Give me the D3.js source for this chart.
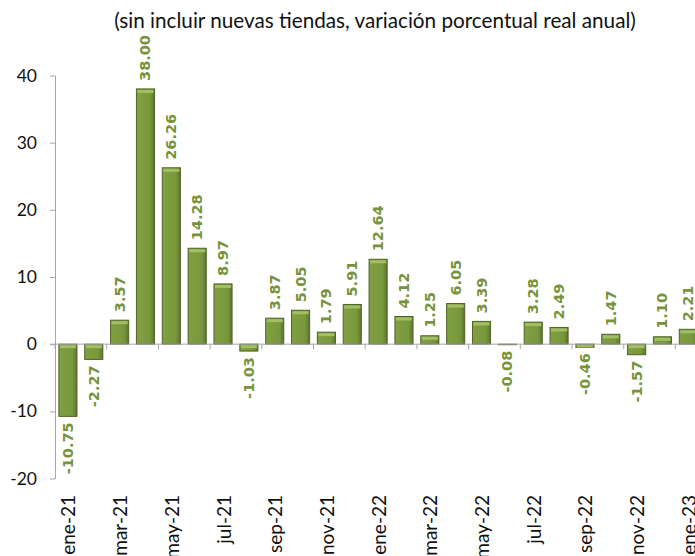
<!DOCTYPE html>
<html>
<head>
<meta charset="utf-8">
<script src="https://cdn.jsdelivr.net/npm/d3@7"></script>
<style>
  body { margin: 0; background: #fff; }
  svg { display: block; }
  .tick-label { font-family: "Century Gothic", "Lato", sans-serif; fill: #111; }
</style>
</head>
<body>
<div id="chart"></div>
<script>
// Data
const months = ['ene-21', 'feb-21', 'mar-21', 'abr-21', 'may-21', 'jun-21', 'jul-21', 'ago-21',
  'sep-21', 'oct-21', 'nov-21', 'dic-21', 'ene-22', 'feb-22', 'mar-22', 'abr-22', 'may-22',
  'jun-22', 'jul-22', 'ago-22', 'sep-22', 'oct-22', 'nov-22', 'dic-22', 'ene-23'];
const values = [-10.75, -2.27, 3.57, 38.00, 26.26, 14.28, 8.97, -1.03, 3.87, 5.05, 1.79, 5.91,
  12.64, 4.12, 1.25, 6.05, 3.39, -0.08, 3.28, 2.49, -0.46, 1.47, -1.57, 1.10, 2.21];
const yTicks = [-20, -10, 0, 10, 20, 30, 40];
const title = '(sin incluir nuevas tiendas, variación porcentual real anual)';

const width = 695, height = 556;
const left = 55, bandW = 25.85;

const svg = d3.select('#chart').append('svg')
  .attr('width', width)
  .attr('height', height);

// Bar gradient: lighter left, darker right edge
const defs = svg.append('defs');
const grad = defs.append('linearGradient')
  .attr('id', 'barFill')
  .attr('x1', 0).attr('x2', 1).attr('y1', 0).attr('y2', 0);
grad.append('stop').attr('offset', '0%').attr('stop-color', '#80a042');
grad.append('stop').attr('offset', '75%').attr('stop-color', '#78983c');
grad.append('stop').attr('offset', '100%').attr('stop-color', '#5b7430');

const x = d3.scaleBand()
  .domain(months)
  .range([left, left + bandW * months.length])
  .paddingInner(0.3)
  .paddingOuter(0.15);

const y = d3.scaleLinear()
  .domain([-20, 40])
  .range([478.5, 75.5]);

// Title
svg.append('text')
  .attr('class', 'tick-label')
  .attr('x', 375)
  .attr('y', 28)
  .attr('text-anchor', 'middle')
  .style('font-size', '20.7px')
  .text(title);

// Y axis
const yAxis = svg.append('g')
  .attr('transform', 'translate(' + left + ',0)')
  .call(d3.axisLeft(y).tickValues(yTicks).tickSize(5).tickSizeOuter(0).tickFormat(d => String(d)));
yAxis.select('.domain').attr('stroke', '#a6a6a6');
yAxis.selectAll('.tick line').attr('stroke', '#a6a6a6');
yAxis.selectAll('.tick text')
  .attr('class', 'tick-label')
  .attr('x', -18)
  .style('font-size', '17.5px');

// Bars
const bars = svg.append('g');
bars.selectAll('rect.bar')
  .data(values)
  .enter()
  .append('rect')
  .attr('class', 'bar')
  .attr('x', (d, i) => x(months[i]))
  .attr('y', d => y(Math.max(0, d)))
  .attr('width', x.bandwidth())
  .attr('height', d => Math.abs(y(d) - y(0)))
  .attr('fill', 'url(#barFill)')
  .attr('stroke', '#4f6228')
  .attr('stroke-width', 1);

// Top highlight strip on each bar
bars.selectAll('rect.hl')
  .data(values)
  .enter()
  .append('rect')
  .attr('class', 'hl')
  .attr('x', (d, i) => x(months[i]) + 1)
  .attr('y', d => y(Math.max(0, d)) + 1)
  .attr('width', x.bandwidth() - 2)
  .attr('height', d => Math.min(3, Math.abs(y(d) - y(0)) - 1))
  .attr('fill', '#a3bf66');

// X axis line and ticks at every second category
const xAxis = svg.append('g');
xAxis.append('line')
  .attr('x1', left - 5).attr('x2', width)
  .attr('y1', y(0)).attr('y2', y(0))
  .attr('stroke', '#a6a6a6');
xAxis.selectAll('line.xt')
  .data(months.filter((m, i) => i % 2 === 0))
  .enter()
  .append('line')
  .attr('class', 'xt')
  .attr('x1', d => x(d) - x.step() * x.paddingInner() / 2)
  .attr('x2', d => x(d) - x.step() * x.paddingInner() / 2)
  .attr('y1', y(0)).attr('y2', y(0) + 5)
  .attr('stroke', '#a6a6a6');

// X tick labels (last one runs off the edge, as in the original)
svg.append('g').selectAll('text')
  .data(months.filter((m, i) => i % 2 === 0))
  .enter()
  .append('text')
  .attr('class', 'tick-label')
  .attr('text-anchor', 'end')
  .attr('dominant-baseline', 'central')
  .attr('transform', d => 'translate(' + (x(d) + x.bandwidth() / 2) + ',495) rotate(-90)')
  .style('font-size', '19px')
  .text(d => d);

// Value labels
svg.append('g').selectAll('text')
  .data(values)
  .enter()
  .append('text')
  .attr('text-anchor', d => d >= 0 ? 'start' : 'end')
  .attr('dominant-baseline', 'central')
  .attr('transform', (d, i) => 'translate(' + (x(months[i]) + x.bandwidth() / 2) + ',' +
    (d >= 0 ? y(d) - 8 : y(d) + 6) + ') rotate(-90)')
  .style('font-family', '"DejaVu Sans", Verdana, sans-serif')
  .style('font-weight', 'bold')
  .style('font-size', '14.5px')
  .attr('fill', '#77933c')
  .text(d => d.toFixed(2));
</script>
</body>
</html>
